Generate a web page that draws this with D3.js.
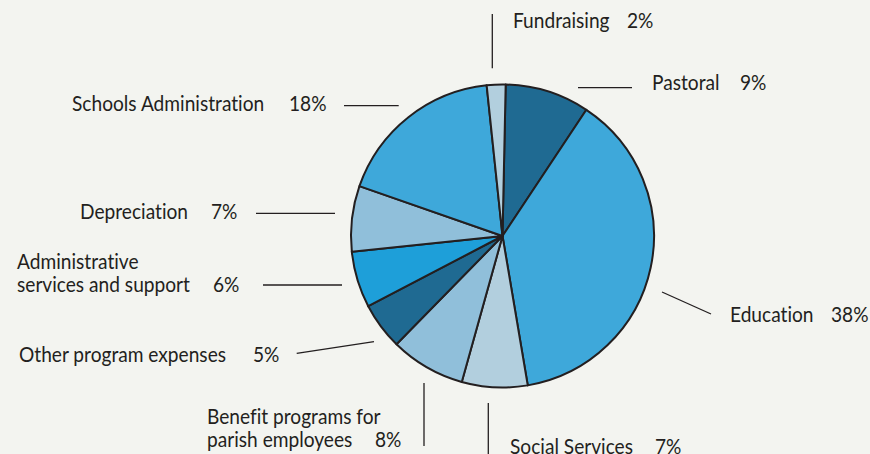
<!DOCTYPE html>
<html>
<head>
<meta charset="utf-8">
<script src="https://cdn.jsdelivr.net/npm/d3@7"></script>
<style>
  html, body { margin: 0; padding: 0; background: #f3f4f0; }
  svg { display: block; }
  text { font-family: Lato, "Open Sans", sans-serif; fill: #231f20; font-variant-ligatures: none; }
</style>
</head>
<body>
<svg id="chart" width="870" height="454"></svg>
<script>
// Expense categories, clockwise from twelve o'clock
const categories = [
  "Pastoral", "Education", "Social Services", "Benefit programs for parish employees",
  "Other program expenses", "Administrative services and support", "Depreciation",
  "Schools Administration", "Fundraising"
];
const shares = [9, 38, 7, 8, 5, 6, 7, 18, 2];
const shareLabels = ["9%", "38%", "7%", "8%", "5%", "6%", "7%", "18%", "2%"];

const palette = ["#1f6a92", "#3ea8da", "#b2cfde", "#90bfda", "#1f6a92", "#1e9fd9", "#90bfda", "#3ea8da", "#b2cfde"];

// Label placement: name lines, name x, baselines, percentage x, leader line
const labelLayout = [
  { lines: ["Pastoral"], x: 652, y: [90], px: 740, leader: [[578, 87.7], [632, 87.7]] },
  { lines: ["Education"], x: 730, y: [321.7], px: 831, leader: [[662, 292], [711, 314]] },
  { lines: ["Social Services"], x: 510, y: [453.7], px: 655, leader: [[488.3, 403], [488.3, 460]] },
  { lines: ["Benefit programs for", "parish employees"], x: 207, y: [424, 446.5], px: 375, leader: [[424, 383], [424, 446]] },
  { lines: ["Other program expenses"], x: 19, y: [361.5], px: 253, leader: [[296.7, 353.3], [374, 341.7]] },
  { lines: ["Administrative", "services and support"], x: 17, y: [268.5, 291.5], px: 213, leader: [[263, 285], [342, 285]] },
  { lines: ["Depreciation"], x: 80, y: [219.3], px: 211, leader: [[256, 213.3], [335, 213.3]] },
  { lines: ["Schools Administration"], x: 72, y: [111], px: 289, leader: [[344, 105.7], [398.7, 105.7]] },
  { lines: ["Fundraising"], x: 513, y: [28.3], px: 627, leader: [[492.3, 14], [492.3, 68.3]] }
];

const svg = d3.select("#chart");
const cx = 502.5, cy = 236, radius = 151.5;
const offset = 1.2 * Math.PI / 180;

const pie = d3.pie().sort(null).value(d => d)
  .startAngle(offset).endAngle(2 * Math.PI + offset);
const arc = d3.arc().innerRadius(0).outerRadius(radius);
const color = d3.scaleOrdinal().domain(d3.range(categories.length)).range(palette);

const g = svg.append("g").attr("transform", `translate(${cx},${cy})`);
g.selectAll("path.slice")
  .data(pie(shares))
  .join("path")
  .attr("class", "slice")
  .attr("d", arc)
  .attr("fill", (d, i) => color(i))
  .attr("stroke", "#231f20")
  .attr("stroke-width", 2)
  .attr("stroke-linejoin", "round");

// Leader lines
const line = d3.line();
svg.selectAll("path.leader")
  .data(labelLayout)
  .join("path")
  .attr("class", "leader")
  .attr("d", d => line(d.leader))
  .attr("fill", "none")
  .attr("stroke", "#231f20")
  .attr("stroke-width", 1.3);

// Category names and percentages, set in a slightly condensed face
const fontSize = 22;
const squeeze = 0.87;
function putText(sel, x, y, t) {
  sel.append("text")
    .attr("transform", `translate(${x},${y}) scale(${squeeze},1)`)
    .attr("font-size", fontSize)
    .text(t);
}
const labels = svg.selectAll("g.label").data(labelLayout).join("g").attr("class", "label");
labels.each(function (d, i) {
  const sel = d3.select(this);
  d.lines.forEach((t, k) => putText(sel, d.x, d.y[k], t));
  putText(sel, d.px, d.y[d.y.length - 1], shareLabels[i]);
});
</script>
</body>
</html>
